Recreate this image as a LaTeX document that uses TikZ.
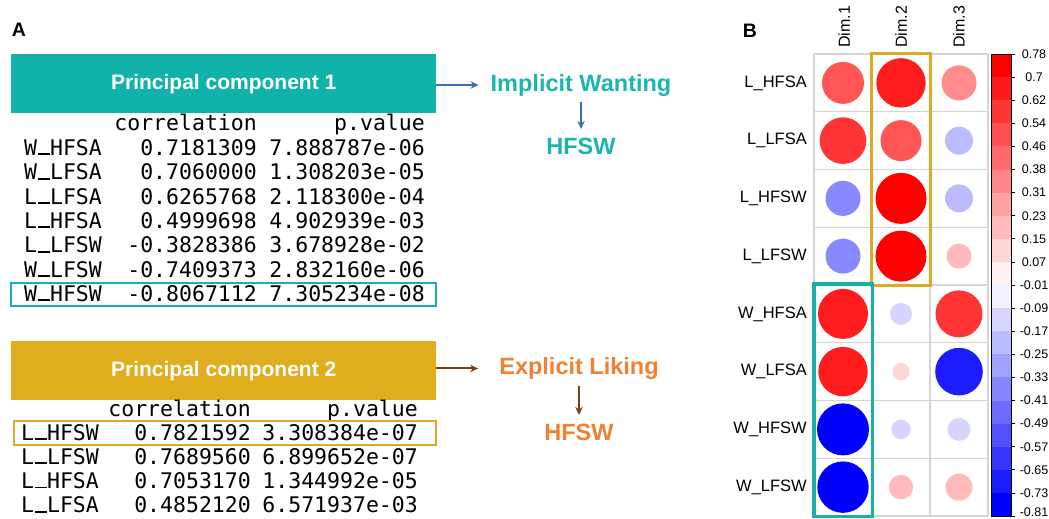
\documentclass[tikz,border=0pt]{standalone}
\usepackage{fontspec}
\setmainfont{Liberation Sans}
\newfontfamily\tblfont{DejaVu Sans Mono}
\usetikzlibrary{arrows.meta}
\newcommand\usc{\makebox[0.602em][c]{\rule[0.2pt]{0.56em}{0.085em}}}
\definecolor{pcteal}{RGB}{17,178,170}
\definecolor{pcgold}{RGB}{223,173,30}
\definecolor{iwteal}{RGB}{28,180,175}
\definecolor{arrblue}{RGB}{58,110,180}
\definecolor{arrbrown}{RGB}{125,62,22}
\definecolor{elorange}{RGB}{240,128,50}
\definecolor{gridgray}{RGB}{212,212,212}
\definecolor{hlgold}{RGB}{224,168,32}
\definecolor{hlteal}{RGB}{26,176,170}
\definecolor{rA}{RGB}{255,0,0}
\definecolor{rB}{RGB}{255,28,28}
\definecolor{rC}{RGB}{255,52,52}
\definecolor{rD}{RGB}{255,85,85}
\definecolor{rE}{RGB}{255,140,140}
\definecolor{rF}{RGB}{255,187,187}
\definecolor{rG}{RGB}{255,214,214}
\definecolor{bA}{RGB}{0,0,255}
\definecolor{bB}{RGB}{28,28,255}
\definecolor{bC}{RGB}{136,136,255}
\definecolor{bD}{RGB}{187,187,255}
\definecolor{bE}{RGB}{213,213,255}
\tikzset{
  pcbox/.style={fill=#1, text=white, font=\fontsize{21}{25}\selectfont\bfseries,
    minimum width=425pt, minimum height=59pt, inner sep=0pt, anchor=north west},
  tbl/.style={font=\tblfont\fontsize{21.5}{25}\selectfont, inner sep=0pt, text=black},
  bigtxt/.style={font=\fontsize{23.5}{28}\selectfont\bfseries, inner sep=0pt, anchor=base},
  panlab/.style={font=\fontsize{19.5}{23}\selectfont\bfseries, inner sep=0pt},
  rowlab/.style={font=\fontsize{16.5}{20}\selectfont, anchor=east, inner sep=0pt},
  dimlab/.style={font=\fontsize{16}{20}\selectfont, rotate=90, anchor=west, inner sep=0pt},
  barlab/.style={font=\fontsize{12.5}{15}\selectfont, inner sep=0pt},
  conn/.style={line width=2pt, -{Stealth[length=8pt,width=7.5pt]}},
}
\begin{document}
\begin{tikzpicture}[x=1pt,y=-1pt]
\useasboundingbox (0,0) rectangle (1049,519);
\fill[white] (0,0) rectangle (1049,519);

% ---------- Panel A ----------
\node[panlab] (labA) at (19,30) {A};
\node[pcbox=pcteal] (pc1) at (11,54) {Principal component 1};
\node[pcbox=pcgold] (pc2) at (11,341) {Principal component 2};

% table 1
\node[tbl, anchor=base east] (h1c) at (257,130) {correlation};
\node[tbl, anchor=base east] (h1p) at (425,130) {p.value};
\foreach \lab/\c/\p [count=\i from 0] in {
  W\usc HFSA/0.7181309/7.888787e-06,
  W\usc LFSA/0.7060000/1.308203e-05,
  L\usc LFSA/0.6265768/2.118300e-04,
  L\usc HFSA/0.4999698/4.902939e-03,
  L\usc LFSW/-0.3828386/3.678928e-02,
  W\usc LFSW/-0.7409373/2.832160e-06,
  W\usc HFSW/-0.8067112/7.305234e-08}{
  \node[tbl, anchor=base west] (ta\i) at (24,{155.5+24.33*\i}) {\lab};
  \node[tbl, anchor=base east] (tb\i) at (257,{155.5+24.33*\i}) {\c};
  \node[tbl, anchor=base east] (tc\i) at (425,{155.5+24.33*\i}) {\p};
}
\draw[hlteal, line width=2pt] (11,283) rectangle (436,306);

% table 2
\node[tbl, anchor=base east] (h2c) at (251,416) {correlation};
\node[tbl, anchor=base east] (h2p) at (418,416) {p.value};
\foreach \lab/\c/\p [count=\i from 0] in {
  L\usc HFSW/0.7821592/3.308384e-07,
  L\usc LFSW/0.7689560/6.899652e-07,
  L\usc HFSA/0.7053170/1.344992e-05,
  L\usc LFSA/0.4852120/6.571937e-03}{
  \node[tbl, anchor=base west] (ua\i) at (21,{440+24.33*\i}) {\lab};
  \node[tbl, anchor=base east] (ub\i) at (251,{440+24.33*\i}) {\c};
  \node[tbl, anchor=base east] (uc\i) at (418,{440+24.33*\i}) {\p};
}
\draw[hlgold, line width=2pt] (14,421) rectangle (436,445);

% labels and arrows
\node[bigtxt, text=iwteal] (iw) at (581,91) {Implicit Wanting};
\node[bigtxt, text=iwteal] (hf1) at (581,154.5) {HFSW};
\node[bigtxt, text=elorange] (el) at (579,374.5) {Explicit Liking};
\node[bigtxt, text=elorange] (hf2) at (579,440.5) {HFSW};
\draw[conn, arrblue, shorten >=12pt] (pc1.east |- iw.west) -- (iw.west);
\draw[conn, arrblue, shorten <=6pt, shorten >=9pt] (iw.south) -- (hf1.north);
\draw[conn, arrbrown, shorten >=21pt] (pc2.east |- el.west) -- (el.west);
\draw[conn, arrbrown, shorten <=6pt, shorten >=9pt] (el.south) -- (hf2.north);

% ---------- Panel B ----------
\node[panlab] (labB) at (750,31) {B};
\foreach \lab [count=\j from 0] in {L\_HFSA,L\_LFSA,L\_HFSW,L\_LFSW,W\_HFSA,W\_LFSA,W\_HFSW,W\_LFSW}{
  \node[rowlab] (rl\j) at (807,{82.9+57.75*\j}) {\lab};
}
\foreach \lab/\xx [count=\k] in {Dim.1/844,Dim.2/901,Dim.3/959}{
  \node[dimlab] (dl\k) at (\xx,48) {\lab};
}
% grid
\foreach \k in {0,...,3}{\draw[gridgray, line width=1.2pt] ({814+58*\k},54) -- ({814+58*\k},516);}
\foreach \j in {0,...,8}{\draw[gridgray, line width=1.2pt] (814,{54+57.75*\j}) -- (988,{54+57.75*\j});}
% circles
\foreach \cc/\rr/\rad/\col in {
  1/1/21/rD, 2/1/24.7/rB, 3/1/17.5/rE,
  1/2/23.3/rC, 2/2/20.5/rD, 3/2/14/bD,
  1/3/17.5/bC, 2/3/25.5/rA, 3/3/14/bD,
  1/4/17.5/bC, 2/4/25.5/rA, 3/4/12.5/rF,
  1/5/25/rB, 2/5/11/bE, 3/5/23.5/rC,
  1/6/24.7/rB, 2/6/8.7/rG, 3/6/23.8/bB,
  1/7/26/bA, 2/7/9.7/bE, 3/7/11.5/bE,
  1/8/25.7/bA, 2/8/12.2/rF, 3/8/13.5/rF}{
  \fill[\col] ({814+58*\cc-29},{54+57.75*\rr-28.875}) circle[radius=\rad pt];
}
% highlight boxes
\draw[hlgold, line width=3pt] (871,54) rectangle (930,285);
\draw[hlteal, line width=3.5pt] (814,284) rectangle (872.5,516.5);

% colour bar
\foreach \i in {0,...,9}{
  \pgfmathsetmacro\pct{100-10.5*\i}
  \fill[red!\pct!white] (991,{54+23.1*\i}) rectangle (1011,{54+23.1*(\i+1)});
}
\foreach \i in {10,...,19}{
  \pgfmathsetmacro\pct{5.5+10.5*(\i-10)}
  \fill[blue!\pct!white] (991,{54+23.1*\i}) rectangle (1011,{54+23.1*(\i+1)});
}
\draw[black, line width=0.8pt] (991,54) rectangle (1011,516);
\foreach \lab [count=\i from 0] in {0.78,0.7,0.62,0.54,0.46,0.38,0.31,0.23,0.15,0.07,-0.01,-0.09,-0.17,-0.25,-0.33,-0.41,-0.49,-0.57,-0.65,-0.73}{
  \draw[black, line width=0.8pt] (1011,{54+23.1*\i}) -- (1015,{54+23.1*\i});
  \node[barlab] (bl\i) at (1034,{54+23.1*\i}) {\lab};
}
\draw[black, line width=0.8pt] (1011,516) -- (1015,516);
\node[barlab, anchor=south] (bl20) at (1034,517) {-0.81};
\end{tikzpicture}
\end{document}
